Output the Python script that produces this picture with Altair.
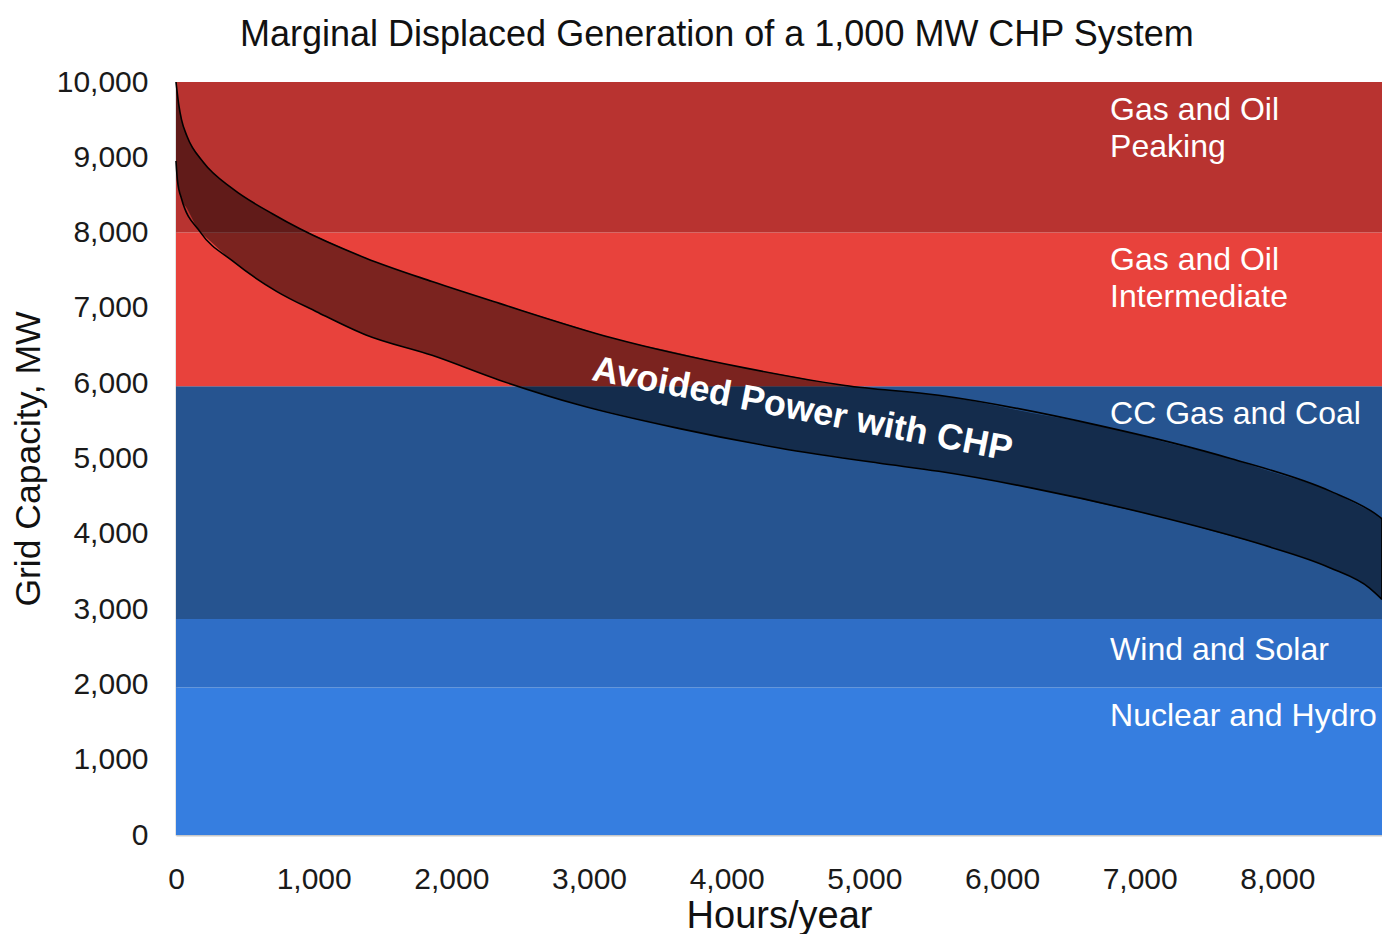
import altair as alt
import pandas as pd
import numpy as np

# Generation stack bands (MW)
band_names = ["Nuclear and Hydro", "Wind and Solar", "CC Gas and Coal",
              "Gas and Oil Intermediate", "Gas and Oil Peaking"]
band_low = [0, 1960, 2870, 5960, 8000]
band_high = [1960, 2870, 5960, 8000, 10000]
band_colors = ["#367ee0", "#2f6ec6", "#265490", "#e8423c", "#b83330"]

# Band label text and anchor position (hours, MW of first line)
label_text = ["Nuclear and Hydro", "Wind and Solar", "CC Gas and Coal",
              "Gas and Oil\nIntermediate", "Gas and Oil\nPeaking"]
label_x = [6785, 6785, 6785, 6785, 6785]
label_y = [1580, 2460, 5590, 7630, 9630]

# Load duration curve without CHP (upper) and with CHP (lower)
upper_hours = [0, 20, 40, 80, 200, 413, 700, 900, 1380, 1860, 2350, 3170,
               4140, 4860, 5540, 6700, 7660, 8380, 8700, 8760]
upper_mw = [10000, 9700, 9500, 9280, 8930, 8580, 8250, 8050, 7660, 7350,
            7060, 6600, 6200, 5970, 5840, 5440, 5000, 4570, 4280, 4200]
lower_hours = [0, 10, 40, 175, 413, 730, 1020, 1380, 1860, 2350, 2930, 3650,
               4380, 5100, 5540, 6210, 7180, 7900, 8380, 8670, 8760]
lower_mw = [8950, 8700, 8450, 8010, 7620, 7220, 6950, 6640, 6370, 6040, 5710,
            5400, 5140, 4940, 4830, 4610, 4210, 3850, 3550, 3280, 3130]

FONT = "Liberation Sans"
X_MAX = 8760

bands = pd.DataFrame({"name": band_names, "lo": band_low, "hi": band_high,
                      "x0": [0] * 5, "x1": [X_MAX] * 5})
labels = pd.DataFrame({"text": label_text, "x": label_x, "y": label_y})

grid = sorted(set(upper_hours) | set(lower_hours))
curve = pd.DataFrame({
    "h": grid,
    "up": np.interp(grid, upper_hours, upper_mw),
    "lo": np.interp(grid, lower_hours, lower_mw),
})
upper_df = pd.DataFrame({"h": upper_hours, "v": upper_mw})
lower_df = pd.DataFrame({"h": lower_hours, "v": lower_mw})
ann = pd.DataFrame({"text": ["Avoided Power with CHP"], "x": [4550], "y": [5650]})

W, H = 1206, 753

xscale = alt.Scale(domain=[0, X_MAX], nice=False, zero=False)
yscale = alt.Scale(domain=[0, 10000], nice=False)

xaxis = alt.Axis(values=list(range(0, 9000, 1000)), format=",d", grid=False,
                 ticks=False, labelFontSize=30, labelFont=FONT,
                 labelColor="#1a1a1a", labelPadding=29, domainColor="#c8c8c8",
                 domainWidth=2, title="Hours/year", titleFont=FONT,
                 titleFontSize=38, titleFontWeight="normal", titleColor="#111",
                 titleX=W / 2, titleY=92, titleBaseline="alphabetic",
                 titleAlign="center", labelFlush=False, labelOverlap=False)
yaxis = alt.Axis(values=list(range(0, 11000, 1000)), format=",d", grid=False,
                 ticks=False, labelFontSize=30, labelFont=FONT,
                 labelColor="#1a1a1a", labelPadding=28, domainColor="#c8c8c8",
                 domainWidth=2, title="Grid Capacity, MW", titleFont=FONT,
                 titleFontSize=35.5, titleFontWeight="normal", titleColor="#111",
                 titleX=-148, titleY=H / 2, titleAngle=-90,
                 titleBaseline="middle", titleAlign="center",
                 labelFlush=False, labelOverlap=False)

rects = alt.Chart(bands).mark_rect().encode(
    x=alt.X("x0:Q", scale=xscale, axis=xaxis),
    x2="x1:Q",
    y=alt.Y("lo:Q", scale=yscale, axis=yaxis),
    y2="hi:Q",
    color=alt.Color("name:N", scale=alt.Scale(domain=band_names, range=band_colors),
                    legend=None),
)

band = alt.Chart(curve).mark_area(color="black", opacity=0.47,
                                  interpolate="monotone").encode(
    x=alt.X("h:Q", scale=xscale), y=alt.Y("up:Q", scale=yscale), y2="lo:Q"
)
up_line = alt.Chart(upper_df).mark_line(color="black", strokeWidth=1.6,
                                        interpolate="monotone").encode(
    x=alt.X("h:Q", scale=xscale), y=alt.Y("v:Q", scale=yscale)
)
lo_line = alt.Chart(lower_df).mark_line(color="black", strokeWidth=1.6,
                                        interpolate="monotone").encode(
    x=alt.X("h:Q", scale=xscale), y=alt.Y("v:Q", scale=yscale)
)
end_line = alt.Chart(curve.tail(1)).mark_rule(color="black", strokeWidth=1.6).encode(
    x=alt.X("h:Q", scale=xscale), y=alt.Y("up:Q", scale=yscale), y2="lo:Q"
)

texts = alt.Chart(labels).mark_text(
    align="left", baseline="middle", font=FONT, fontSize=32, color="white",
    lineBreak="\n", lineHeight=37
).encode(x=alt.X("x:Q", scale=xscale), y=alt.Y("y:Q", scale=yscale), text="text:N")

ann_text = alt.Chart(ann).mark_text(
    align="center", baseline="middle", font=FONT, fontSize=36, fontWeight="bold",
    color="white", angle=11
).encode(x=alt.X("x:Q", scale=xscale), y=alt.Y("y:Q", scale=yscale), text="text:N")

chart = alt.layer(rects, band, up_line, lo_line, end_line, texts, ann_text).properties(
    width=W, height=H,
    title=alt.TitleParams("Marginal Displaced Generation of a 1,000 MW CHP System",
                          font=FONT, fontSize=36, fontWeight="normal", color="#111",
                          anchor="start", frame="group", dx=64, offset=13),
    autosize=alt.AutoSizeParams(type="none"),
    padding={"left": 168, "top": 74, "right": 0, "bottom": 99},
).configure_view(stroke=None).configure(background="white")

chart.save("out.html", embed_options={"renderer": "svg", "actions": False})
